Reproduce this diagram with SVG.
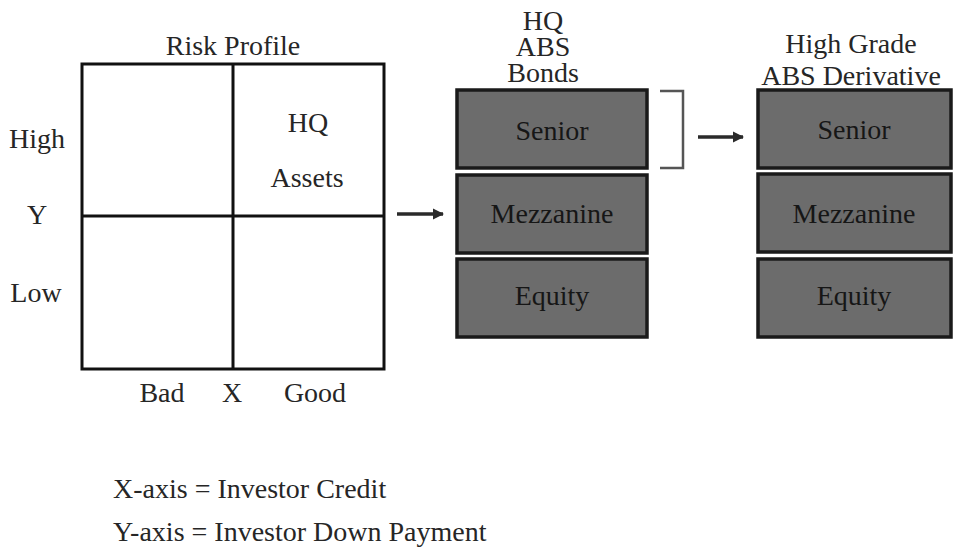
<svg xmlns="http://www.w3.org/2000/svg" width="956" height="550" viewBox="0 0 956 550" font-family="'Liberation Serif', 'Times New Roman', 'DejaVu Serif', serif">
<style>
text{font-family:'Liberation Serif','Times New Roman','DejaVu Serif',serif;font-size:28px;fill:#262626}
.c{text-anchor:middle}
.grid{fill:none;stroke:#111;stroke-width:3}
.tr{fill:#6c6c6c;stroke:#1a1a1a;stroke-width:3.5}
.tt{fill:#161616;text-anchor:middle}
.con{fill:none;stroke:#2a2a2a;stroke-width:3.5}
.br{fill:none;stroke:#555;stroke-width:2.5}
</style>
<defs>
<marker id="ah" viewBox="0 0 10 10" refX="9" refY="5" markerWidth="3.2" markerHeight="3.2" orient="auto" markerUnits="strokeWidth">
<path d="M0,0 L10,5 L0,10 Z" fill="#2a2a2a"/>
</marker>
</defs>
<rect width="956" height="550" fill="#fff"/>

<g id="risk-profile">
<text class="c" x="233" y="55">Risk Profile</text>
<rect class="grid" x="82" y="64" width="302" height="305"/>
<line class="grid" x1="233" y1="64" x2="233" y2="369"/>
<line class="grid" x1="82" y1="216" x2="384" y2="216"/>
<text class="c" x="308" y="132">HQ</text>
<text class="c" x="307" y="187">Assets</text>
<text class="c" x="37" y="148">High</text>
<text class="c" x="37" y="224">Y</text>
<text class="c" x="36" y="302">Low</text>
<text class="c" x="162" y="402">Bad</text>
<text class="c" x="232" y="402">X</text>
<text class="c" x="315" y="402">Good</text>
</g>

<g id="hq-abs-bonds">
<text class="c" x="543" y="30">HQ</text>
<text class="c" x="543" y="56">ABS</text>
<text class="c" x="543" y="82">Bonds</text>
<g id="bond-senior"><rect class="tr" x="457" y="90" width="190" height="78"/><text class="tt" x="552" y="140">Senior</text></g>
<g id="bond-mezzanine"><rect class="tr" x="457" y="175" width="190" height="78"/><text class="tt" x="552" y="223">Mezzanine</text></g>
<g id="bond-equity"><rect class="tr" x="457" y="259" width="190" height="78"/><text class="tt" x="552" y="305">Equity</text></g>
</g>

<g id="abs-derivative">
<text class="c" x="851" y="53">High Grade</text>
<text class="c" x="851" y="85">ABS Derivative</text>
<g id="deriv-senior"><rect class="tr" x="758" y="90" width="193" height="78"/><text class="tt" x="854" y="139">Senior</text></g>
<g id="deriv-mezzanine"><rect class="tr" x="758" y="174" width="193" height="78"/><text class="tt" x="854" y="223">Mezzanine</text></g>
<g id="deriv-equity"><rect class="tr" x="758" y="259" width="193" height="78"/><text class="tt" x="854" y="305">Equity</text></g>
</g>

<g id="connectors">
<line class="con" x1="397" y1="214" x2="443" y2="214" marker-end="url(#ah)"/>
<path class="br" d="M660,91 H683 V168 H660"/>
<line class="con" x1="698" y1="137" x2="743" y2="137" marker-end="url(#ah)"/>
</g>

<g id="legend">
<text x="113" y="498">X-axis = Investor Credit</text>
<text x="113" y="541">Y-axis = Investor Down Payment</text>
</g>
</svg>
